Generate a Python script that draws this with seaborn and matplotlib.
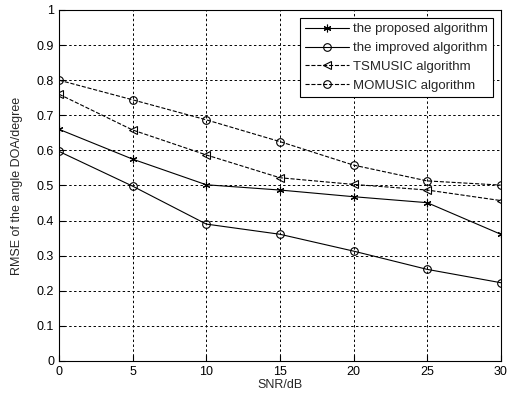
import pandas as pd
import matplotlib
matplotlib.use("Agg")
import matplotlib.pyplot as plt
import seaborn as sns

sns.set_style("ticks")
plt.rcParams['font.family'] = ['Liberation Sans', 'DejaVu Sans']

# data
snr = [0, 5, 10, 15, 20, 25, 30]
proposed = [0.660, 0.575, 0.502, 0.487, 0.468, 0.451, 0.361]
improved = [0.597, 0.498, 0.390, 0.361, 0.313, 0.261, 0.223]
tsmusic = [0.760, 0.658, 0.587, 0.522, 0.503, 0.487, 0.457]
momusic = [0.800, 0.744, 0.687, 0.625, 0.558, 0.513, 0.501]

names = ['the proposed algorithm', 'the improved algorithm',
         'TSMUSIC algorithm', 'MOMUSIC algorithm']
series = [proposed, improved, tsmusic, momusic]
markers = [(6, 2, 0), 'o', '<', 'o']
styles = ['-', '-', '--', '--']

fig = plt.figure(figsize=(5.11, 3.98), dpi=100)
ax = fig.add_axes([0.1155, 0.093, 0.8645, 0.882])

for name, vals, mk, ls in zip(names, series, markers, styles):
    df = pd.DataFrame({'snr': snr, 'rmse': vals})
    sns.lineplot(data=df, x='snr', y='rmse', ax=ax, color='black',
                 linestyle=ls, linewidth=0.8, marker=mk, markersize=5.5,
                 markerfacecolor='none', markeredgecolor='black',
                 markeredgewidth=0.8, label=name)

ax.set_xlim(0, 30)
ax.set_ylim(0, 1)
ax.set_xticks(snr)
ax.set_yticks([i / 10 for i in range(11)])
ax.set_yticklabels(['0', '0.1', '0.2', '0.3', '0.4', '0.5', '0.6', '0.7',
                    '0.8', '0.9', '1'])
ax.grid(True, color='black', linestyle=(0, (2.5, 2.5)), linewidth=0.7)
for s in ax.spines.values():
    s.set_linewidth(0.8)
    s.set_color('black')
ax.tick_params(labelsize=9, direction='in', length=4, colors='black')
ax.set_xlabel('SNR/dB', fontsize=9, labelpad=1)
ax.set_ylabel('RMSE of the angle DOA/degree', fontsize=9, labelpad=10)

leg = ax.legend(loc='upper right', fontsize=9.5, frameon=True, fancybox=False,
                edgecolor='black', framealpha=1, borderaxespad=0.6,
                handlelength=3.3, labelspacing=0.5, borderpad=0.4,
                handletextpad=0.3)
leg.get_frame().set_linewidth(0.8)

fig.savefig('out.png', dpi=100)
